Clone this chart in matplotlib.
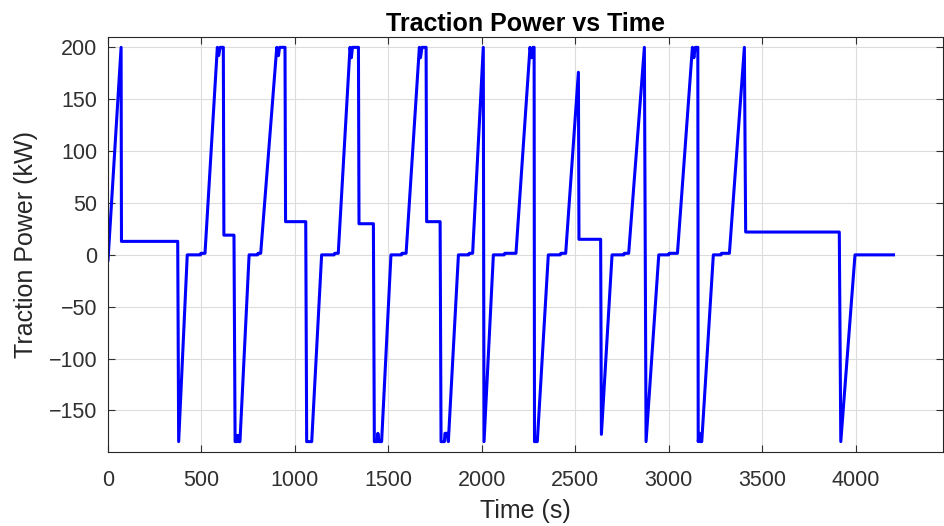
import matplotlib.pyplot as plt

# time (s) and traction power (kW) breakpoints
time_s = [0, 70, 72, 373, 378, 424, 495, 497, 519,
          585, 592, 600, 617, 620, 674, 680, 690, 694, 700, 706,
          755, 800, 803, 817, 903, 912, 918, 947, 950, 1058, 1063, 1090,
          1143, 1210, 1213, 1232, 1295, 1302, 1308, 1340, 1343, 1420, 1425, 1440, 1444, 1450, 1464,
          1514, 1570, 1573, 1595, 1666, 1672, 1680, 1702, 1705, 1777, 1782, 1800, 1803, 1815, 1821,
          1875, 1930, 1933, 1951, 2008, 2012, 2062, 2120, 2123, 2183,
          2258, 2266, 2274, 2280, 2282, 2297, 2356, 2420, 2423, 2449,
          2517, 2520, 2636, 2640, 2697, 2760, 2763, 2786, 2870, 2879,
          2947, 3000, 3003, 3047, 3127, 3135, 3142, 3156, 3158, 3165, 3170, 3177,
          3239, 3280, 3283, 3325, 3405, 3412, 3913, 3921, 3997, 4203]
power_kw = [-5, 200, 13, 13, -180, 0, 0, 1.5, 1.5,
            200, 192, 200, 200, 19, 19, -180, -180, -174, -180, -180,
            0, 0, 1.5, 1.5, 200, 192, 200, 200, 32, 32, -180, -180,
            0, 0, 1.5, 1.5, 200, 190, 200, 200, 30, 30, -180, -180, -172, -180, -180,
            0, 0, 1.5, 1.5, 200, 190, 200, 200, 32, 32, -180, -180, -172, -172, -180,
            0, 0, 1.5, 1.5, 200, -180, 0, 0, 1.5, 1.5,
            200, 190, 200, 200, -180, -180, 0, 0, 1.5, 1.5,
            176, 15, 15, -173, 0, 0, 1.5, 1.5, 200, -180,
            0, 0, 1.5, 1.5, 200, 190, 200, 200, -180, -172, -180, -180,
            0, 0, 1.5, 1.5, 200, 22, 22, -180, 0, 0]

plt.rcParams['font.family'] = ['Liberation Sans', 'DejaVu Sans']

fig = plt.figure(figsize=(9.45, 5.26), dpi=100)
ax = fig.add_axes([0.1143, 0.1407, 0.884, 0.789])

ax.plot(time_s, power_kw, color=(0, 0, 1), linewidth=2.2)

ax.set_xlim(0, 4470)
ax.set_ylim(-190, 210)
ax.set_xticks([0, 500, 1000, 1500, 2000, 2500, 3000, 3500, 4000])
ax.set_yticks([-150, -100, -50, 0, 50, 100, 150, 200])
ax.set_yticklabels(['\u2212150', '\u2212100', '\u221250', '0', '50', '100', '150', '200'])

ax.grid(True, color='#dcdcdc', linewidth=0.8)
ax.set_axisbelow(True)
for s in ax.spines.values():
    s.set_color('#262626')
    s.set_linewidth(0.8)
ax.tick_params(direction='in', length=5, labelsize=15.5, colors='#303030',
               top=True, right=True)
ax.tick_params(axis='y', pad=7.5)
ax.tick_params(axis='x', pad=13)

ax.set_xlabel('Time (s)', fontsize=18, color='#262626', labelpad=6)
ax.set_ylabel('Traction Power (kW)', fontsize=18, color='#262626')
ax.yaxis.set_label_coords(-0.084, 0.5)
ax.set_title('Traction Power vs Time', fontsize=18, fontweight='bold', pad=4)

fig.savefig('out.png', dpi=100)
